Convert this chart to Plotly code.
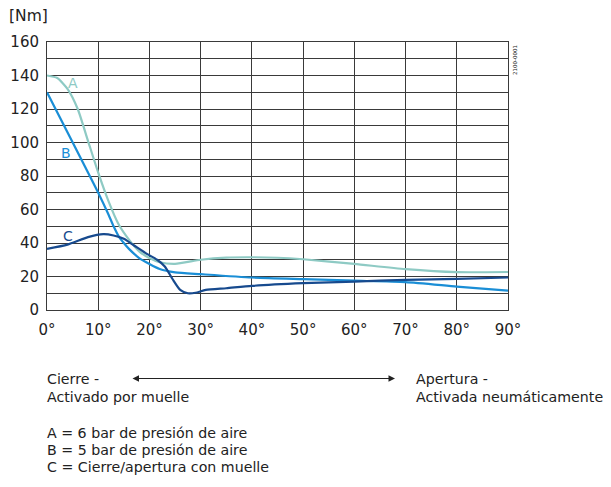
import plotly.graph_objects as go

# ---- data ----
angle_a = [0, 2, 4, 6, 8, 10, 12, 14, 16, 18, 20, 22, 25, 30, 35, 40, 45, 50, 60, 70, 80, 90]
torque_a = [140, 138.5, 132, 120, 101, 82, 65, 51, 42, 35, 31, 28.5, 27.5, 30, 31.3, 31.5, 31.2, 30.3, 27.5, 24.4, 22.6, 22.7]

angle_b = [0, 10, 12, 13, 14, 15, 16, 18, 20, 22, 25, 30, 40, 50, 60, 70, 80, 90]
torque_b = [130, 70, 57, 50, 44, 40, 36.5, 31, 27.5, 24.5, 22.5, 21.4, 19.4, 18.4, 17.5, 16.6, 14, 11.6]

angle_c = [0, 4, 8, 11, 13, 15, 17, 19.5, 21.5, 23, 24.5, 26, 27.5, 29, 31, 35, 40, 50, 60, 70, 80, 90]
torque_c = [36.5, 39, 43.5, 45.3, 44.5, 42.5, 38.5, 33.5, 30, 26, 18.5, 12, 10, 10.3, 12, 13, 14.4, 16, 17, 18, 18.6, 19.4]

x_ticks = [0, 10, 20, 30, 40, 50, 60, 70, 80, 90]
x_tick_labels = [f"{v}°" for v in x_ticks]
y_ticks = [0, 20, 40, 60, 80, 100, 120, 140, 160]

curve_labels = ["A", "B", "C"]
label_pos = [(5.1, 135.5), (3.7, 94), (4.1, 44)]
colors = ["#8ecac4", "#1a8ed6", "#174a8e"]

legend_lines = ["A = 6 bar de presión de aire",
                "B = 5 bar de presión de aire",
                "C = Cierre/apertura con muelle"]

OFF = 8  # browser body margin
W, H = 611 - OFF, 487 - OFF
L, R, T, B = 47 - OFF, 103, 42 - OFF, 177
PW, PH = W - L - R, H - T - B

def px(xp):
    return (xp - OFF - L) / PW

def py(yp):
    return (H - B - (yp - OFF)) / PH

FONT = "DejaVu Sans, Arial, sans-serif"
TXT = "#222222"

fig = go.Figure()
for xs, ys, c in [(angle_a, torque_a, colors[0]), (angle_b, torque_b, colors[1]), (angle_c, torque_c, colors[2])]:
    fig.add_trace(go.Scatter(x=xs, y=ys, mode="lines",
                             line=dict(color=c, width=2.2, shape="spline", smoothing=0.6),
                             showlegend=False, hoverinfo="skip"))

annotations = []
for lab, (lx, ly), c in zip(curve_labels, label_pos, colors):
    annotations.append(dict(x=lx, y=ly, xref="x", yref="y", text=lab, showarrow=False,
                            font=dict(family=FONT, size=14, color=c)))

annotations.append(dict(x=px(7), y=py(16), xref="paper", yref="paper", text="[Nm]",
                        showarrow=False, xanchor="left", yanchor="middle",
                        font=dict(family=FONT, size=15.5, color=TXT)))
annotations.append(dict(x=px(515), y=py(60), xref="paper", yref="paper", text="2100-0001",
                        showarrow=False, textangle=-90, xanchor="center", yanchor="middle",
                        font=dict(family=FONT, size=5.5, color=TXT)))

def txt(xp, yp, s, anchor="left"):
    annotations.append(dict(x=px(xp), y=py(yp), xref="paper", yref="paper", text=s,
                            showarrow=False, xanchor=anchor, yanchor="middle",
                            font=dict(family=FONT, size=14.2, color=TXT)))

txt(45, 379, "Cierre -")
txt(45, 397, "Activado por muelle")
txt(414, 379, "Apertura -")
txt(414, 397, "Activada neumáticamente")
for i, s in enumerate(legend_lines):
    txt(45, 433 + 17 * i, s)

annotations.append(dict(x=px(395), y=py(378.5), xref="paper", yref="paper",
                        ax=-264, ay=0, axref="pixel", ayref="pixel", text="",
                        showarrow=True, arrowhead=2, startarrowhead=2, arrowside="end+start",
                        arrowsize=1.3, arrowwidth=1, arrowcolor="#222222"))

grid = "#3a3a3a"
fig.update_layout(
    width=W, height=H, margin=dict(l=L, r=R, t=T, b=B, autoexpand=False),
    paper_bgcolor="white", plot_bgcolor="white",
    annotations=annotations,
    xaxis=dict(range=[0, 90], tickvals=x_ticks, ticktext=x_tick_labels,
               showgrid=True, gridcolor=grid, gridwidth=1, zeroline=False,
               showline=True, linecolor=grid, linewidth=1, mirror=True,
               tickfont=dict(family=FONT, size=15, color=TXT), ticks="", ticklen=0,
               ticklabelstandoff=6),
    yaxis=dict(range=[0, 160], tickvals=y_ticks,
               showgrid=True, gridcolor=grid, gridwidth=1, zeroline=False,
               minor=dict(dtick=10, showgrid=True, gridcolor=grid, gridwidth=1),
               showline=True, linecolor=grid, linewidth=1, mirror=True,
               tickfont=dict(family=FONT, size=15, color=TXT), ticks="", ticklen=0,
               ticklabelstandoff=4),
)

fig.write_html("out.html")
